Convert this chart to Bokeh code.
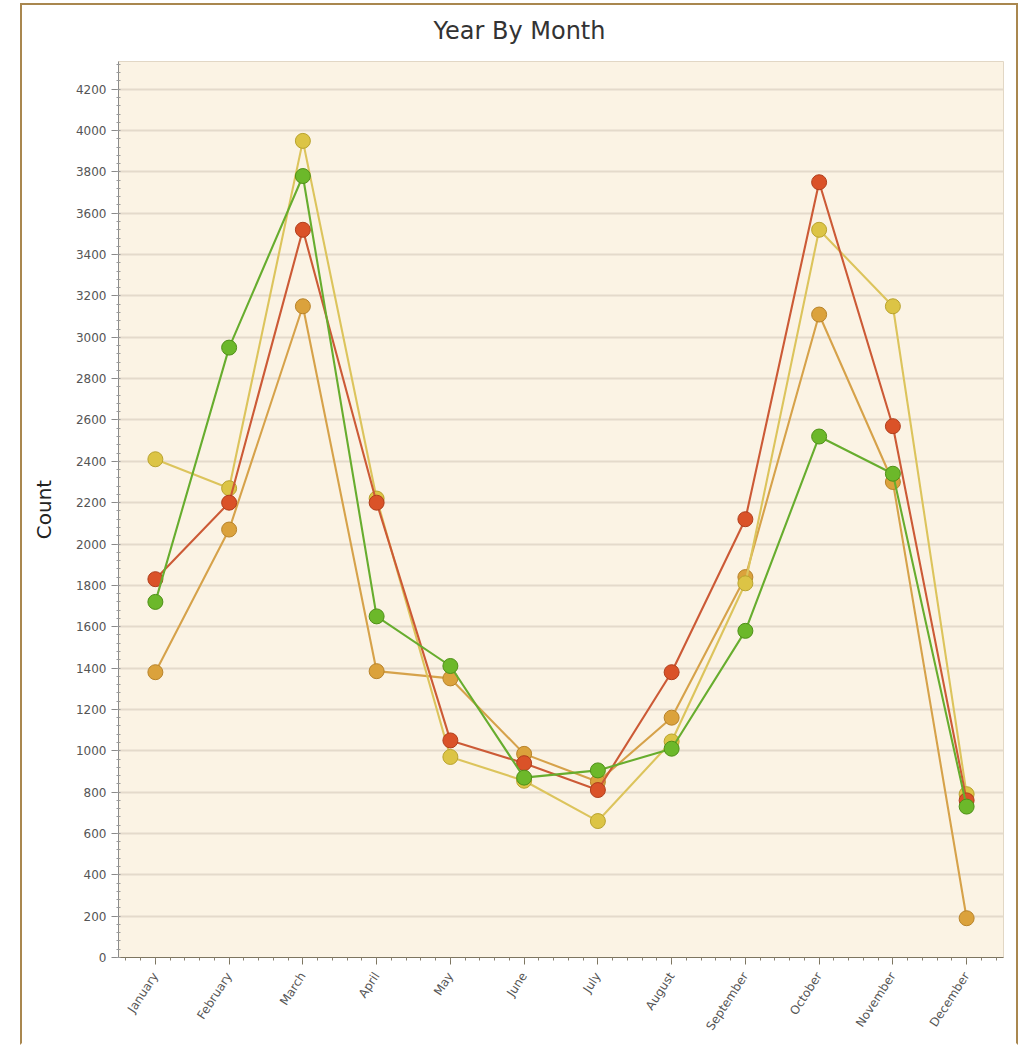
import math
import numpy as np
from bokeh.plotting import figure
from bokeh.models import Range1d, FixedTicker, SingleIntervalTicker, ColumnDataSource, Title
from bokeh.embed import file_html
from bokeh.resources import INLINE

# ---- data ----
months = ["January", "February", "March", "April", "May", "June",
          "July", "August", "September", "October", "November", "December"]
series_red = [1830, 2200, 3520, 2200, 1050, 940, 810, 1380, 2120, 3750, 2570, 760]
series_green = [1720, 2950, 3780, 1650, 1410, 870, 905, 1010, 1580, 2520, 2340, 730]
series_yellow = [2410, 2270, 3950, 2220, 970, 855, 660, 1045, 1810, 3520, 3150, 790]
series_orange = [1380, 2070, 3150, 1385, 1350, 985, 850, 1160, 1840, 3110, 2300, 190]
y_max = 4334
y_step = 200

FONT = "DejaVu Sans"

xpos = np.arange(len(months)) + 0.5

p = figure(width=998, height=1042, output_backend="svg", toolbar_location=None,
           x_range=Range1d(0, len(months)), y_range=Range1d(0, y_max),
           min_border_left=96, min_border_right=17, min_border_top=56, min_border_bottom=90)

p.styles = {"border-top": "2px solid #a9874f",
            "border-left": "2px solid #a9874f",
            "border-right": "2px solid #a9874f",
            "border-bottom": "2px solid white"}
p.margin = (3, 0, 0, 20)

p.title.text = "Year By Month"
p.title.text_font = FONT
p.title.text_font_size = "24px"
p.title.text_font_style = "normal"
p.title.text_color = "#333333"
p.title.align = "left"
p.title.offset = 315
p.title.standoff = 18

# thin spacer between the title and the plot area
p.add_layout(Title(text=" ", text_font_size="6px", standoff=0), "above")

p.background_fill_color = "#fbf3e4"
p.border_fill_color = "white"
p.outline_line_color = "#e2d7c5"
p.outline_line_width = 1

# grids
p.xgrid.grid_line_color = None
p.ygrid.grid_line_color = "#e4dacb"
p.ygrid.grid_line_width = 2

# y axis
p.yaxis.ticker = SingleIntervalTicker(interval=y_step, num_minor_ticks=5)
p.yaxis.axis_label = "Count"
p.yaxis.axis_label_text_font = FONT
p.yaxis.axis_label_text_font_size = "20px"
p.yaxis.axis_label_text_font_style = "normal"
p.yaxis.axis_label_text_color = "#222222"
p.yaxis.axis_label_standoff = 17
p.yaxis.major_label_text_font = FONT
p.yaxis.major_label_text_font_size = "12px"
p.yaxis.major_label_text_color = "#555555"
p.yaxis.axis_line_color = "#8a8a8a"
p.yaxis.major_tick_line_color = "#8a8a8a"
p.yaxis.minor_tick_line_color = "#9a9a9a"
p.yaxis.major_tick_out = 7
p.yaxis.major_tick_in = 0
p.yaxis.minor_tick_out = 2
p.yaxis.minor_tick_in = 2

# x axis
minor_x = list(np.arange(0.1, len(months), 0.2))
p.xaxis.ticker = FixedTicker(ticks=list(xpos), minor_ticks=minor_x)
p.xaxis.major_label_overrides = {float(x): m for x, m in zip(xpos, months)}
p.xaxis.major_label_orientation = math.radians(57)
p.xaxis.major_label_standoff = 9
p.xaxis.major_label_text_font = FONT
p.xaxis.major_label_text_font_size = "12px"
p.xaxis.major_label_text_color = "#555555"
p.xaxis.axis_line_color = "#7d7560"
p.xaxis.major_tick_line_color = "#7d7560"
p.xaxis.minor_tick_line_color = "#8a8270"
p.xaxis.major_tick_out = 7
p.xaxis.major_tick_in = 0
p.xaxis.minor_tick_out = 3
p.xaxis.minor_tick_in = 0

styles = [
    (series_orange, "#d6a24a", "#dba23c", "#b8832a"),
    (series_yellow, "#dcc45c", "#dcc445", "#b9a32e"),
    (series_red, "#cc5a36", "#da5228", "#b03e1c"),
    (series_green, "#67ad2e", "#6cb82a", "#4f9018"),
]
for vals, lc, fc, oc in styles:
    src = ColumnDataSource(dict(x=xpos, y=vals))
    p.line("x", "y", source=src, line_color=lc, line_width=2.1)
    p.scatter("x", "y", source=src, size=15, fill_color=fc, line_color=oc, line_width=1)

open("out.html", "w").write(file_html(p, INLINE))
